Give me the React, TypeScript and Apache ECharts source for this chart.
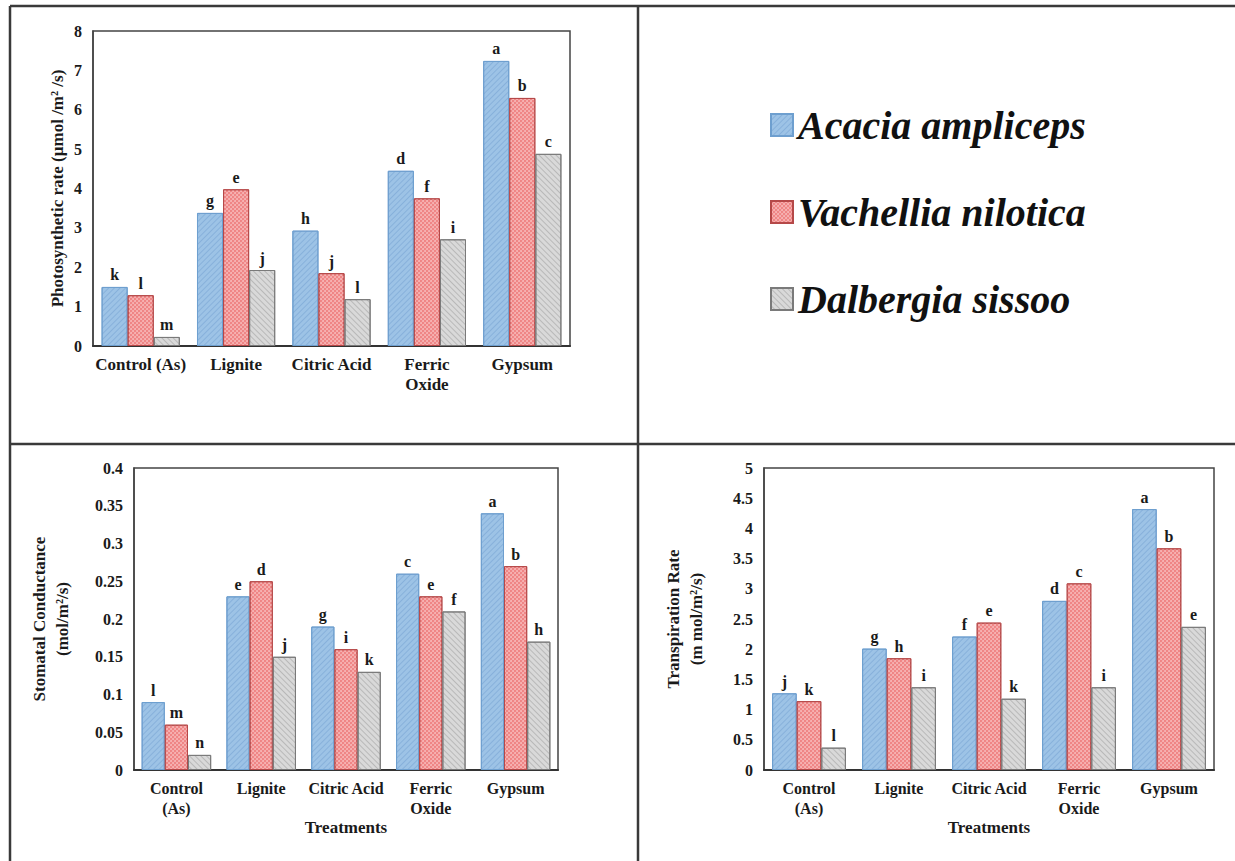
import React, { useEffect, useRef } from "react";
import * as echarts from "echarts";

const speciesNames = ["Acacia ampliceps", "Vachellia nilotica", "Dalbergia sissoo"];
const categoriesTop = ["Control (As)", "Lignite", "Citric Acid", "Ferric\nOxide", "Gypsum"];
const categoriesBottom = ["Control\n(As)", "Lignite", "Citric Acid", "Ferric\nOxide", "Gypsum"];

// Photosynthetic rate
const photoAcacia = [1.5, 3.38, 2.93, 4.45, 7.24];
const photoVachellia = [1.29, 3.98, 1.85, 3.75, 6.3];
const photoDalbergia = [0.23, 1.93, 1.19, 2.71, 4.88];
const photoLetAcacia = ["k", "g", "h", "d", "a"];
const photoLetVachellia = ["l", "e", "j", "f", "b"];
const photoLetDalbergia = ["m", "j", "l", "i", "c"];

// Stomatal conductance
const stomAcacia = [0.09, 0.23, 0.19, 0.26, 0.34];
const stomVachellia = [0.06, 0.25, 0.16, 0.23, 0.27];
const stomDalbergia = [0.02, 0.15, 0.13, 0.21, 0.17];
const stomLetAcacia = ["l", "e", "g", "c", "a"];
const stomLetVachellia = ["m", "d", "i", "e", "b"];
const stomLetDalbergia = ["n", "j", "k", "f", "h"];

// Transpiration rate
const transAcacia = [1.27, 2.01, 2.21, 2.8, 4.32];
const transVachellia = [1.14, 1.85, 2.44, 3.09, 3.67];
const transDalbergia = [0.37, 1.37, 1.18, 1.37, 2.37];
const transLetAcacia = ["j", "g", "f", "d", "a"];
const transLetVachellia = ["k", "h", "e", "c", "b"];
const transLetDalbergia = ["l", "i", "k", "i", "e"];

const FONT = "'Liberation Serif', 'Times New Roman', serif";
const TXT = "#1a1a1a";

const styles = [
  {
    color: "#9DC3E6",
    borderColor: "#6E9FCF",
    decal: {
      symbol: "rect",
      symbolSize: 1,
      dashArrayX: [1, 0],
      dashArrayY: [1, 3],
      rotation: -Math.PI / 4,
      color: "rgba(80,130,190,0.28)",
    },
  },
  {
    color: "#EF8585",
    borderColor: "#B54848",
    decal: {
      symbol: "circle",
      symbolSize: 0.9,
      dashArrayX: [
        [2, 2],
        [0, 2, 2, 0],
      ],
      dashArrayY: [2, 0],
      color: "rgba(255,235,235,0.55)",
    },
  },
  {
    color: "#D9D9D9",
    borderColor: "#7A7A7A",
    decal: {
      symbol: "rect",
      symbolSize: 1,
      dashArrayX: [1, 0],
      dashArrayY: [1, 3],
      rotation: Math.PI / 4,
      color: "rgba(110,110,110,0.3)",
    },
  },
];

function barSeries(gridIdx: number, values: number[][], letters: string[][]) {
  return values.map((vals, i) => ({
    name: speciesNames[i],
    type: "bar",
    xAxisIndex: gridIdx,
    yAxisIndex: gridIdx,
    data: vals,
    barGap: "0%",
    barCategoryGap: "18%",
    itemStyle: {
      color: styles[i].color,
      borderColor: styles[i].borderColor,
      borderWidth: 1,
      decal: styles[i].decal,
    },
    label: {
      show: true,
      position: "top",
      distance: 4,
      fontFamily: FONT,
      fontWeight: "bold",
      fontSize: 16,
      color: TXT,
      formatter: (p: any) => letters[i][p.dataIndex],
    },
  }));
}

function xAxis(gridIdx: number, cats: string[], withName: boolean, fontSize: number) {
  return {
    type: "category",
    gridIndex: gridIdx,
    data: cats,
    axisTick: { show: false },
    axisLine: { show: true, lineStyle: { color: "#333", width: 2 } },
    axisLabel: {
      fontFamily: FONT,
      fontWeight: "bold",
      fontSize,
      color: TXT,
      margin: 8,
      lineHeight: 20,
      interval: 0,
    },
    name: withName ? "Treatments" : "",
    nameLocation: "middle",
    nameGap: 48,
    nameTextStyle: { fontFamily: FONT, fontWeight: "bold", fontSize: 17, color: TXT },
  };
}

function yAxis(gridIdx: number, max: number, interval: number, name: string, nameGap: number) {
  return {
    type: "value",
    gridIndex: gridIdx,
    min: 0,
    max,
    interval,
    splitLine: { show: false },
    axisTick: { show: false },
    axisLine: { show: true, lineStyle: { color: "#444", width: 1.5 } },
    axisLabel: { fontFamily: FONT, fontWeight: "bold", fontSize: 16, color: TXT, margin: 11 },
    name,
    nameLocation: "middle",
    nameRotate: 90,
    nameGap,
    nameTextStyle: { fontFamily: FONT, fontWeight: "bold", fontSize: 17, color: TXT, lineHeight: 23 },
  };
}

export default function App() {
  const ref = useRef<HTMLDivElement>(null);
  useEffect(() => {
    if (!ref.current) return;
    const chart = echarts.init(ref.current, undefined, { renderer: "svg" });
    const borderStyle = { stroke: "#3a3a3a", lineWidth: 2.5 };
    const option: any = {
      animation: false,
      backgroundColor: "#ffffff",
      legend: {
        data: speciesNames,
        orient: "vertical",
        left: 765,
        top: 100,
        itemWidth: 22,
        itemHeight: 22,
        itemGap: 47,
        icon: "rect",
        selectedMode: false,
        textStyle: {
          fontFamily: FONT,
          fontStyle: "italic",
          fontWeight: "bold",
          fontSize: 40,
          lineHeight: 40,
          color: "#111",
        },
      },
      grid: [
        { left: 93, top: 31, width: 477, height: 315, show: true, borderColor: "#444", borderWidth: 1.5 },
        { left: 134, top: 468, width: 424, height: 302, show: true, borderColor: "#444", borderWidth: 1.5 },
        { left: 764, top: 468, width: 450, height: 302, show: true, borderColor: "#444", borderWidth: 1.5 },
      ],
      xAxis: [
        xAxis(0, categoriesTop, false, 17),
        xAxis(1, categoriesBottom, true, 16),
        xAxis(2, categoriesBottom, true, 16),
      ],
      yAxis: [
        yAxis(0, 8, 1, "Photosynthetic rate (µmol /m² /s)", 24),
        yAxis(1, 0.4, 0.05, "Stomatal Conductance\n(mol/m²/s)", 60),
        yAxis(2, 5, 0.5, "Transpiration Rate\n(m mol/m²/s)", 56),
      ],
      series: [
        ...barSeries(0, [photoAcacia, photoVachellia, photoDalbergia], [photoLetAcacia, photoLetVachellia, photoLetDalbergia]),
        ...barSeries(1, [stomAcacia, stomVachellia, stomDalbergia], [stomLetAcacia, stomLetVachellia, stomLetDalbergia]),
        ...barSeries(2, [transAcacia, transVachellia, transDalbergia], [transLetAcacia, transLetVachellia, transLetDalbergia]),
      ],
      graphic: [
        { type: "line", shape: { x1: 10, y1: 6, x2: 1235, y2: 6 }, style: borderStyle },
        { type: "line", shape: { x1: 10, y1: 6, x2: 10, y2: 861 }, style: borderStyle },
        { type: "line", shape: { x1: 638, y1: 6, x2: 638, y2: 861 }, style: borderStyle },
        { type: "line", shape: { x1: 10, y1: 444, x2: 1235, y2: 444 }, style: borderStyle },
      ],
    };
    chart.setOption(option);
    return () => chart.dispose();
  }, []);
  return (
    <div
      ref={ref}
      style={{ position: "absolute", left: 0, top: 0, width: 1235, height: 861, background: "#fff" }}
    />
  );
}
